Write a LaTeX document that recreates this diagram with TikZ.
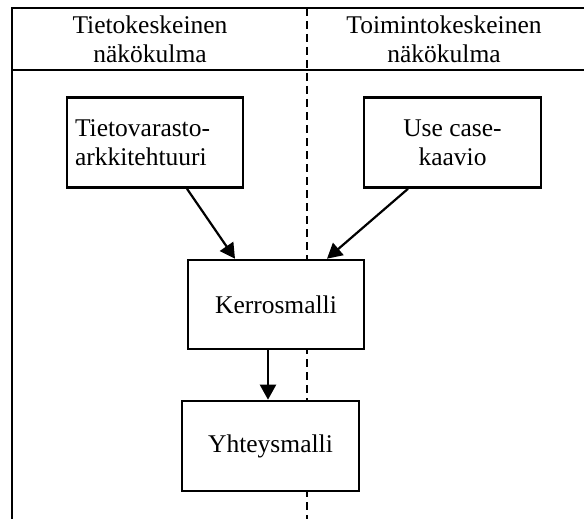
\documentclass[tikz,border=0pt]{standalone}
\usepackage{fontspec}
\setmainfont{Liberation Serif}
\usetikzlibrary{arrows.meta}
\begin{document}
\begin{tikzpicture}[x=1pt,y=-1pt,
  every node/.style={font=\fontsize{25.5}{29}\selectfont},
  frame/.style={line width=2.2pt},
  divider/.style={line width=2.2pt,dash pattern=on 8pt off 5pt},
  blk/.style={draw,line width=2.6pt,fill=white,minimum width=176pt,minimum height=90pt,inner sep=8pt},
  flow/.style={line width=2.2pt,-{Triangle[length=15pt,width=16pt]}}]
  \useasboundingbox (0,0) rectangle (584,519);
  % column frame and header row
  \draw[frame] (584,8) -- (12,8) -- (12,519);
  \draw[frame] (12,70) -- (584,70);
  \draw[divider] (307,8) -- (307,519);
  % column headings
  \node[align=center] (hl) at (150,39) {Tietokeskeinen\\näkökulma};
  \node[align=center] (hr) at (444,39) {Toimintokeskeinen\\näkökulma};
  % model boxes
  \node[blk,text width=160pt,align=left] (tv) at (155,142.5) {Tietovarasto-\\arkkitehtuuri};
  \node[blk,align=center,minimum width=177pt] (uc) at (452.5,142.5) {Use case-\\kaavio};
  \node[blk,minimum height=89pt] (ker) at (276,304.5) {Kerrosmalli};
  \node[blk,minimum width=177pt] (yh) at (270.5,446) {Yhteysmalli};
  % connectors
  \draw[flow] ([xshift=32pt]tv.south) -- ([xshift=-41pt]ker.north);
  \draw[flow] ([xshift=-44.5pt]uc.south) -- ([xshift=51pt]ker.north);
  \draw[flow] ([xshift=-8pt]ker.south) -- ([xshift=-2.5pt]yh.north);
\end{tikzpicture}
\end{document}
